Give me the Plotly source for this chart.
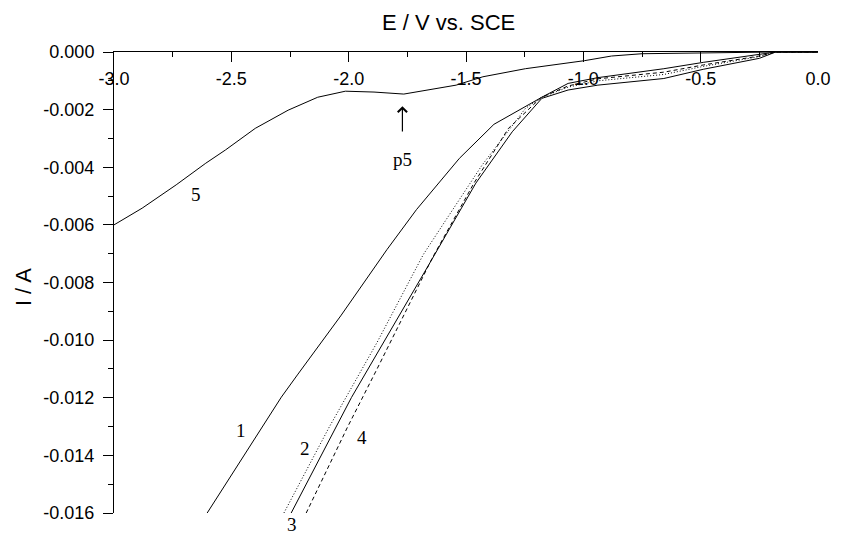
import plotly.graph_objects as go

# Cathodic polarisation curves: potential E (V vs. SCE) and current I (A)
e_curve1 = [-2.603, -2.427, -2.287, -2.216, -2.034, -1.837, -1.711, -1.528, -1.381,
            -1.177, -1.065, -0.938, -0.657, -0.489, -0.25, -0.18, 0.0]
i_curve1 = [-16.0e-3, -13.77e-3, -11.98e-3, -11.18e-3, -9.16e-3, -6.86e-3, -5.47e-3,
            -3.69e-3, -2.51e-3, -1.57e-3, -1.09e-3, -0.89e-3, -0.58e-3, -0.36e-3,
            -0.10e-3, 0.0, 0.0]

e_curve2 = [-2.276, -2.083, -1.879, -1.682, -1.571, -1.431, -1.333, -1.247, -1.177,
            -1.065, -0.938, -0.657, -0.489, -0.25, -0.18, 0.0]
i_curve2 = [-16.0e-3, -13.02e-3, -10.08e-3, -7.03e-3, -5.65e-3, -3.92e-3, -2.88e-3,
            -1.96e-3, -1.57e-3, -1.22e-3, -1.00e-3, -0.78e-3, -0.50e-3, -0.16e-3,
            0.0, 0.0]

e_curve3 = [-2.245, -2.055, -1.988, -1.654, -1.458, -1.303, -1.177, -1.065, -0.938,
            -0.657, -0.489, -0.25, -0.18, 0.0]
i_curve3 = [-16.0e-3, -13.02e-3, -11.99e-3, -7.32e-3, -4.55e-3, -2.77e-3, -1.61e-3,
            -1.32e-3, -1.15e-3, -0.92e-3, -0.60e-3, -0.22e-3, 0.0, 0.0]

e_curve4 = [-2.181, -2.005, -1.879, -1.643, -1.466, -1.319, -1.180, -1.065, -0.938,
            -0.657, -0.489, -0.25, -0.18, 0.0]
i_curve4 = [-16.0e-3, -13.02e-3, -11.0e-3, -7.14e-3, -4.55e-3, -2.65e-3, -1.58e-3,
            -1.18e-3, -0.93e-3, -0.70e-3, -0.45e-3, -0.14e-3, 0.0, 0.0]

e_curve5 = [-3.0, -2.88, -2.735, -2.609, -2.525, -2.398, -2.258, -2.132, -2.014,
            -1.892, -1.765, -1.639, -1.542, -1.428, -1.247, -0.994, -0.88, -0.75,
            -0.50, -0.25, -0.18, 0.0]
i_curve5 = [-6.00e-3, -5.42e-3, -4.61e-3, -3.86e-3, -3.40e-3, -2.65e-3, -2.02e-3,
            -1.57e-3, -1.36e-3, -1.39e-3, -1.46e-3, -1.29e-3, -1.15e-3, -0.86e-3,
            -0.58e-3, -0.30e-3, -0.14e-3, -0.06e-3, -0.03e-3, -0.02e-3, 0.0, 0.0]

# Axis ticks
x_ticks = [-3.0, -2.5, -2.0, -1.5, -1.0, -0.5, 0.0]
x_tick_labels = ["-3.0", "-2.5", "-2.0", "-1.5", "-1.0", "-0.5", "0.0"]
y_ticks = [0.0, -0.002, -0.004, -0.006, -0.008, -0.010, -0.012, -0.014, -0.016]
y_tick_labels = ["0.000", "-0.002", "-0.004", "-0.006", "-0.008", "-0.010",
                 "-0.012", "-0.014", "-0.016"]

# Curve labels inside the plot: (text, E, I)
curve_labels = [
    ("5", -2.650, -4.96e-3),
    ("1", -2.459, -13.14e-3),
    ("2", -2.188, -13.77e-3),
    ("4", -1.942, -13.37e-3),
    ("p5", -1.771, -3.72e-3),
]
# Label for curve 3 sits just below the lower edge of the axes: (text, E, paper y)
curve3_label = ("3", -2.241, -0.026)
# Peak marker arrow for curve 5: (E, I at head, I at tail)
p5_arrow = (-1.771, -1.88e-3, -2.81e-3)

series = [
    (e_curve1, i_curve1, "solid"),
    (e_curve2, i_curve2, "1px,2px"),
    (e_curve3, i_curve3, "solid"),
    (e_curve4, i_curve4, "4px,3px"),
    (e_curve5, i_curve5, "solid"),
]

fig = go.Figure()
for xs, ys, dash in series:
    fig.add_trace(go.Scatter(x=xs, y=ys, mode="lines",
                             line=dict(color="black", width=1, dash=dash),
                             hoverinfo="skip"))

serif = "Liberation Serif, Times New Roman, serif"
for text, ex, iy in curve_labels:
    fig.add_annotation(x=ex, y=iy, xref="x", yref="y", text=text, showarrow=False,
                       font=dict(family=serif, size=19, color="black"),
                       xanchor="center", yanchor="middle")
fig.add_annotation(x=curve3_label[1], y=curve3_label[2], xref="x", yref="paper",
                   text=curve3_label[0], showarrow=False,
                   font=dict(family=serif, size=19, color="black"),
                   xanchor="center", yanchor="middle")

fig.add_annotation(x=p5_arrow[0], y=p5_arrow[1], ax=p5_arrow[0], ay=p5_arrow[2],
                   xref="x", yref="y", axref="x", ayref="y", text="",
                   showarrow=True, arrowhead=4, arrowsize=1.5, arrowwidth=1.2,
                   arrowcolor="black", standoff=0, startstandoff=0)

# Axis titles
sans = "Liberation Sans, Arial, sans-serif"
fig.add_annotation(x=0.4754, y=1.063, xref="paper", yref="paper",
                   text="E / V vs. SCE", showarrow=False,
                   font=dict(family=sans, size=22, color="black"),
                   xanchor="center", yanchor="middle")
fig.add_annotation(x=-0.1285, y=0.489, xref="paper", yref="paper",
                   text="I / A", showarrow=False, textangle=-90,
                   font=dict(family=sans, size=22, color="black"),
                   xanchor="center", yanchor="middle")

tickfont = dict(family=sans, size=18, color="black")
fig.update_xaxes(range=[-3.0, 0.0], side="top", tickmode="array",
                 tickvals=x_ticks, ticktext=x_tick_labels,
                 ticks="inside", ticklen=10, tickwidth=1, tickcolor="black",
                 ticklabelposition="inside", ticklabeloverflow="allow",
                 ticklabelstandoff=11,
                 showline=True, linewidth=1, linecolor="black",
                 showgrid=False, zeroline=False, tickfont=tickfont,
                 minor=dict(ticks="inside", ticklen=5, tickwidth=1, tickcolor="black",
                            tickmode="linear", tick0=-3.0, dtick=0.25, showgrid=False))
fig.update_yaxes(range=[-0.016, 0.0], tickmode="array",
                 tickvals=y_ticks, ticktext=y_tick_labels,
                 ticks="outside", ticklen=10, tickwidth=1, tickcolor="black",
                 ticklabelstandoff=5,
                 showline=True, linewidth=1, linecolor="black",
                 showgrid=False, zeroline=False, tickfont=tickfont,
                 minor=dict(ticks="outside", ticklen=5, tickwidth=1, tickcolor="black",
                            tickmode="linear", tick0=0.0, dtick=0.001, showgrid=False))

fig.update_layout(width=843, height=535, showlegend=False,
                  margin=dict(l=114, r=17, t=52, b=21, pad=0),
                  plot_bgcolor="white", paper_bgcolor="white")

fig.write_html("out.html")
